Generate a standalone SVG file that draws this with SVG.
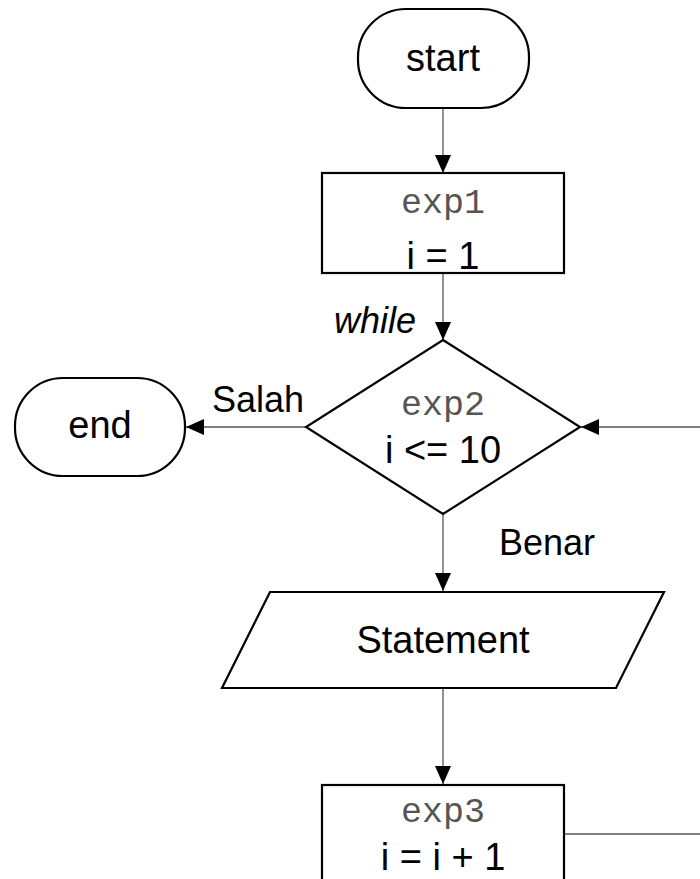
<svg xmlns="http://www.w3.org/2000/svg" width="700" height="879" viewBox="0 0 700 879">
<style>
.shape{fill:#fff;stroke:#000;stroke-width:2.2}
.conn{fill:none;stroke:#555;stroke-width:1.3}
.t{font-family:"Liberation Sans",Arial,sans-serif;font-size:38px;fill:#000;text-anchor:middle}
.m{font-family:"Liberation Mono","Courier New",monospace;font-size:35px;fill:#555;text-anchor:middle}
.lbl{font-family:"Liberation Sans",Arial,sans-serif;font-size:36px;fill:#000;text-anchor:middle}
</style>
<defs>
<marker id="arr" markerWidth="18" markerHeight="16" refX="18" refY="8" orient="auto" markerUnits="userSpaceOnUse">
<path d="M0,0 L18,8 L0,16 Z" fill="#000"/>
</marker>
</defs>
<rect width="700" height="879" fill="#fff"/>
<g id="connectors">
<line class="conn" x1="443" y1="108" x2="443" y2="173" marker-end="url(#arr)"/>
<line class="conn" x1="443" y1="273" x2="443" y2="340" marker-end="url(#arr)"/>
<line class="conn" x1="306" y1="427" x2="186" y2="427" marker-end="url(#arr)"/>
<line class="conn" x1="700" y1="427" x2="581" y2="427" marker-end="url(#arr)"/>
<line class="conn" x1="443" y1="514" x2="443" y2="591" marker-end="url(#arr)"/>
<line class="conn" x1="443" y1="688" x2="443" y2="784" marker-end="url(#arr)"/>
<line class="conn" x1="564" y1="834" x2="700" y2="834"/>
<text class="lbl" x="375" y="333" font-style="italic" font-size="39">while</text>
<text class="lbl" x="258" y="412">Salah</text>
<text class="lbl" x="547" y="555">Benar</text>
</g>
<g id="start">
<rect class="shape" x="358" y="9" width="171" height="99" rx="48" ry="48"/>
<text class="t" x="443" y="71">start</text>
</g>
<g id="exp1">
<rect class="shape" x="322" y="173" width="242" height="100"/>
<text class="m" x="443" y="213">exp1</text>
<text class="t" x="443" y="269">i = 1</text>
</g>
<g id="exp2">
<polygon class="shape" points="443,340 580,427 443,514 306,427"/>
<text class="m" x="443" y="415">exp2</text>
<text class="t" x="443" y="463">i &lt;= 10</text>
</g>
<g id="end">
<rect class="shape" x="15" y="378" width="170" height="98" rx="48" ry="48"/>
<text class="t" x="100" y="438">end</text>
</g>
<g id="statement">
<polygon class="shape" points="270,592 664,592 616,688 222,688"/>
<text class="t" x="443" y="653">Statement</text>
</g>
<g id="exp3">
<rect class="shape" x="322" y="785" width="242" height="110"/>
<text class="m" x="443" y="822">exp3</text>
<text class="t" x="443" y="870">i = i + 1</text>
</g>
</svg>
